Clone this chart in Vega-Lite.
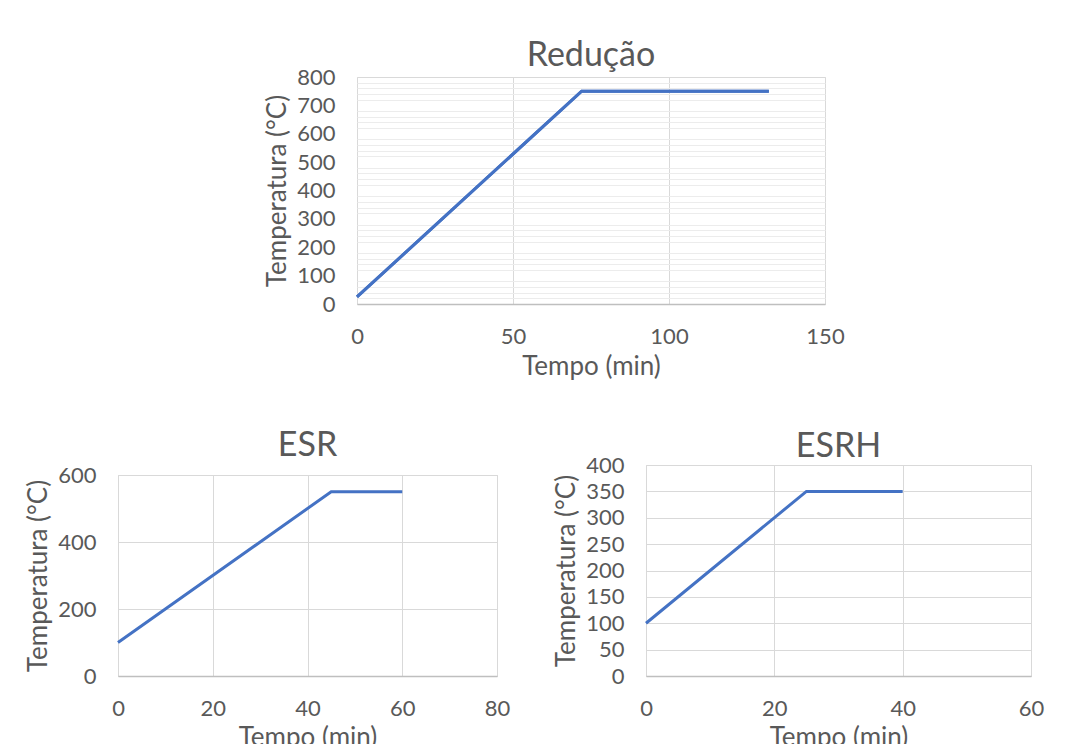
{
  "$schema": "https://vega.github.io/schema/vega-lite/v6.json",
  "background": "white",
  "padding": {"left": 25, "top": 38, "right": 0, "bottom": 0},
  "datasets": {
    "reducao": [{"t": 0, "T": 25}, {"t": 72, "T": 750}, {"t": 132, "T": 750}],
    "esr": [{"t": 0, "T": 100}, {"t": 45, "T": 550}, {"t": 60, "T": 550}],
    "esrh": [{"t": 0, "T": 100}, {"t": 25, "T": 350}, {"t": 40, "T": 350}],
    "empty": []
  },
  "concat": [
    {
      "concat": [
        {
          "width": 145,
          "height": 1,
          "data": {"name": "empty"},
          "mark": {"type": "point", "opacity": 0},
          "encoding": {},
          "view": {"stroke": "white"}
        },
        {
          "width": 468,
          "height": 227,
          "title": {"text": "Redução", "offset": -7},
          "data": {"name": "reducao"},
          "layer": [
            {
              "mark": {"type": "line", "color": "#4472C4", "strokeWidth": 3},
              "encoding": {
                "x": {"field": "t", "type": "quantitative", "title": "Tempo (min)", "scale": {"domain": [0, 150], "nice": false}, "axis": {"values": [0, 50, 100, 150], "titlePadding": 6}},
                "y": {"field": "T", "type": "quantitative", "scale": {"domain": [0, 800], "nice": false}, "axis": {"orient": "left", "title": null, "grid": true, "labels": false, "values": [20,40,60,80,120,140,160,180,220,240,260,280,320,340,360,380,420,440,460,480,520,540,560,580,620,640,660,680,720,740,760,780], "gridColor": "#ececec"}}
              }
            },
            {
              "mark": {"type": "line", "color": "#4472C4", "strokeWidth": 3},
              "encoding": {
                "x": {"field": "t", "type": "quantitative", "title": "Tempo (min)", "scale": {"domain": [0, 150], "nice": false}},
                "y": {"field": "T", "type": "quantitative", "title": "Temperatura (°C)", "scale": {"domain": [0, 800], "nice": false}, "axis": {"orient": "left", "values": [0, 100, 200, 300, 400, 500, 600, 700, 800], "titlePadding": 6}}
              }
            }
          ],
          "resolve": {"axis": {"y": "independent"}}
        }
      ],
      "columns": 2,
      "align": "none",
      "spacing": 0
    },
    {
      "concat": [
        {
          "concat": [
            {
              "width": 1,
              "height": 1,
              "data": {"name": "empty"},
              "mark": {"type": "point", "opacity": 0},
              "encoding": {},
              "view": {"stroke": "white"}
            },
            {
              "width": 379,
              "height": 201,
              "title": {"text": "ESR", "offset": 1.5},
              "data": {"name": "esr"},
              "mark": {"type": "line", "color": "#4472C4", "strokeWidth": 3},
              "encoding": {
                "x": {"field": "t", "type": "quantitative", "title": "Tempo (min)", "scale": {"domain": [0, 80], "nice": false}, "axis": {"values": [0, 20, 40, 60, 80], "titlePadding": 5}},
                "y": {"field": "T", "type": "quantitative", "title": "Temperatura (°C)", "scale": {"domain": [0, 600], "nice": false}, "axis": {"values": [0, 200, 400, 600], "titlePadding": 6}}
              }
            }
          ],
          "columns": 1,
          "align": "none",
          "spacing": -39
        },
        {
          "width": 385,
          "height": 211,
          "title": {"text": "ESRH", "offset": -9.5},
          "data": {"name": "esrh"},
          "mark": {"type": "line", "color": "#4472C4", "strokeWidth": 3},
          "encoding": {
            "x": {"field": "t", "type": "quantitative", "title": "Tempo (min)", "scale": {"domain": [0, 60], "nice": false}, "axis": {"values": [0, 20, 40, 60], "titlePadding": 5}},
            "y": {"field": "T", "type": "quantitative", "title": "Temperatura (°C)", "scale": {"domain": [0, 400], "nice": false}, "axis": {"values": [0, 50, 100, 150, 200, 250, 300, 350, 400], "titlePadding": 6}}
          }
        }
      ],
      "columns": 2,
      "align": "none",
      "spacing": 42
    }
  ],
  "columns": 1,
  "align": "none",
  "spacing": 48,
  "config": {
    "font": "Lato",
    "view": {"stroke": "#d9d9d9"},
    "axis": {
      "labelFont": "Lato", "labelFontSize": 22, "labelColor": "#595959", "labelPadding": 22, "labelFlush": false,
      "titleFont": "Lato", "titleFontSize": 26, "titleFontWeight": "normal", "titleColor": "#595959",
      "gridColor": "#d9d9d9", "gridWidth": 1, "domain": false, "ticks": false
    },
    "axisX": {"domain": true, "domainColor": "#bfbfbf", "domainWidth": 1.5},
    "title": {"font": "Lato", "fontSize": 34, "fontWeight": "normal", "color": "#595959", "frame": "group"}
  }
}
